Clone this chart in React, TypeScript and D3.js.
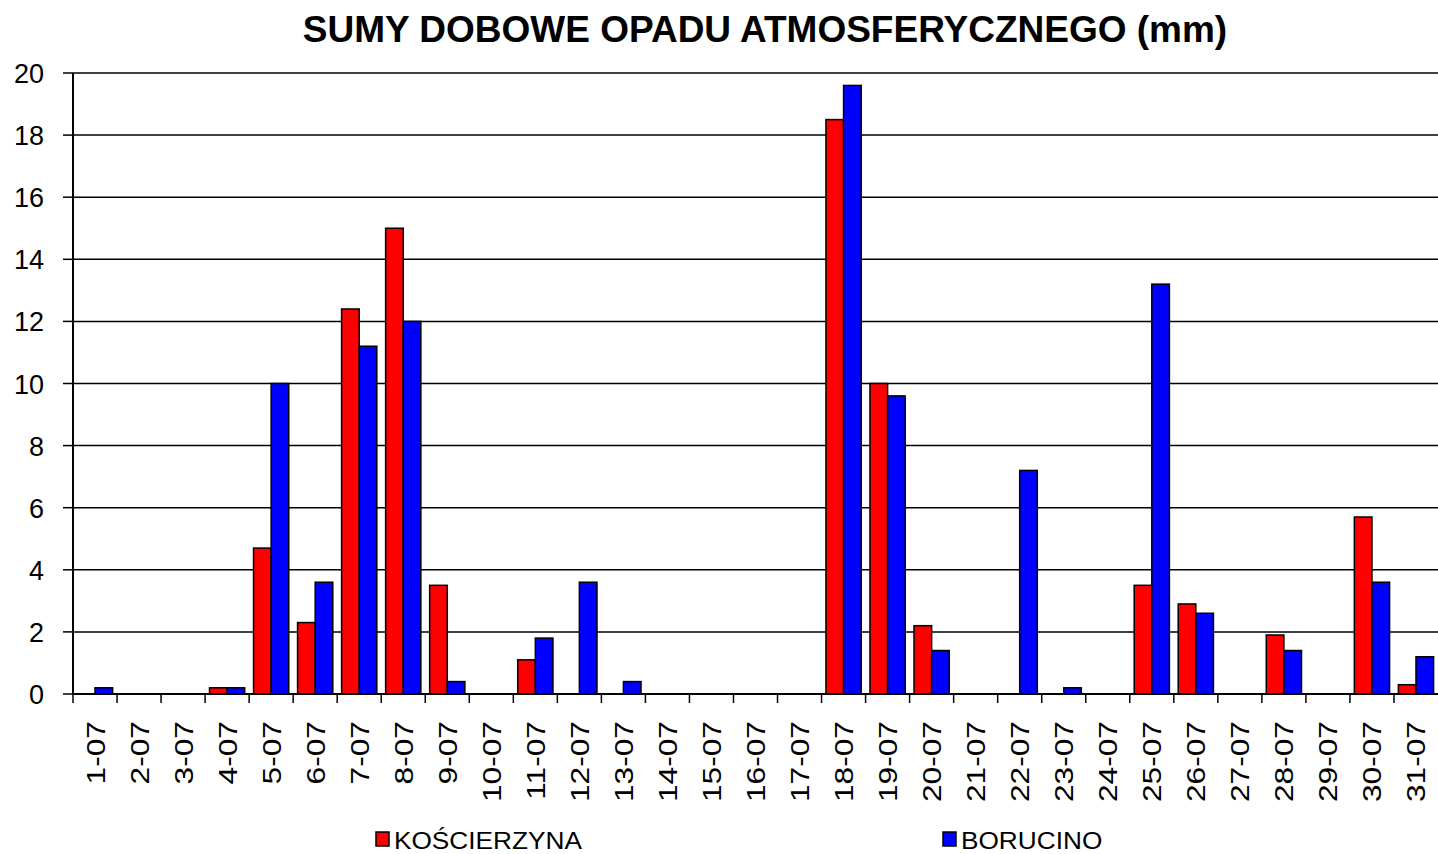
import React from "react";
import * as d3 from "d3";

const days = Array.from({ length: 31 }, (_, i) => `${i + 1}-07`);
const koscierzyna = [0, 0, 0, 0.2, 4.7, 2.3, 12.4, 15.0, 3.5, 0, 1.1, 0, 0, 0, 0, 0, 0, 18.5, 10.0, 2.2, 0, 0, 0, 0, 3.5, 2.9, 0, 1.9, 0, 5.7, 0.3];
const borucino = [0.2, 0, 0, 0.2, 10.0, 3.6, 11.2, 12.0, 0.4, 0, 1.8, 3.6, 0.4, 0, 0, 0, 0, 19.6, 9.6, 1.4, 0, 7.2, 0.2, 0, 13.2, 2.6, 0, 1.4, 0, 3.6, 1.2];
const seriesNames = ["KOŚCIERZYNA", "BORUCINO"];
const seriesColors = ["#ff0000", "#0000ff"];
const yTicks = [0, 2, 4, 6, 8, 10, 12, 14, 16, 18, 20];

const W = 1438, H = 854;
const M = { left: 73, right: 1438, top: 73, bottom: 694 };
const FONT = "'Liberation Sans', Arial, sans-serif";

export default function App() {
  const x = d3.scaleBand<string>().domain(days).range([M.left, M.right]).paddingInner(0).paddingOuter(0);
  const y = d3.scaleLinear().domain([0, 20]).range([M.bottom, M.top]);
  const data = [koscierzyna, borucino];
  const bw = x.bandwidth() / 2.5;
  const off = (x.bandwidth() - 2 * bw) / 2;

  return (
    <svg width={W} height={H} style={{ position: "absolute", left: 0, top: 0, background: "#fff" }} fontFamily={FONT}>
      <text x={765} y={42} textAnchor="middle" fontSize={37} fontWeight="bold">
        SUMY DOBOWE OPADU ATMOSFERYCZNEGO (mm)
      </text>
      {yTicks.map((t) => (
        <g key={t}>
          {t > 0 && <line x1={M.left} x2={M.right} y1={y(t)} y2={y(t)} stroke="#000" strokeWidth={1.5} />}
          <line x1={M.left - 10} x2={M.left} y1={y(t)} y2={y(t)} stroke="#000" strokeWidth={1.5} />
          <text x={44} y={y(t) + 10} textAnchor="end" fontSize={27}>{t}</text>
        </g>
      ))}
      {data.map((vals, si) =>
        vals.map((v, i) =>
          v > 0 ? (
            <rect
              key={`${si}-${i}`}
              x={(x(days[i]) as number) + off + si * bw}
              y={y(v)}
              width={bw}
              height={y(0) - y(v)}
              fill={seriesColors[si]}
              stroke="#000"
              strokeWidth={1.5}
            />
          ) : null
        )
      )}
      <line x1={M.left} x2={M.left} y1={M.top} y2={M.bottom} stroke="#000" strokeWidth={2} />
      <line x1={M.left} x2={M.right} y1={M.bottom} y2={M.bottom} stroke="#000" strokeWidth={2} />
      {days.map((d, i) => (
        <g key={d}>
          <line x1={(x(d) as number)} x2={(x(d) as number)} y1={M.bottom} y2={M.bottom + 9} stroke="#000" strokeWidth={1.5} />
          <text
            transform={`translate(${(x(d) as number) + x.bandwidth() / 2 + 9.5},${721}) rotate(-90) scale(1.22,1)`}
            textAnchor="end"
            fontSize={26}
          >
            {d}
          </text>
        </g>
      ))}
      {seriesNames.map((n, i) => {
        const lx = i === 0 ? 376 : 943;
        return (
          <g key={n}>
            <rect x={lx} y={832} width={13} height={14} fill={seriesColors[i]} stroke="#000" strokeWidth={1.5} />
            <text transform={`translate(${lx + 18},${849}) scale(1.14,1)`} fontSize={23}>{n}</text>
          </g>
        );
      })}
    </svg>
  );
}
